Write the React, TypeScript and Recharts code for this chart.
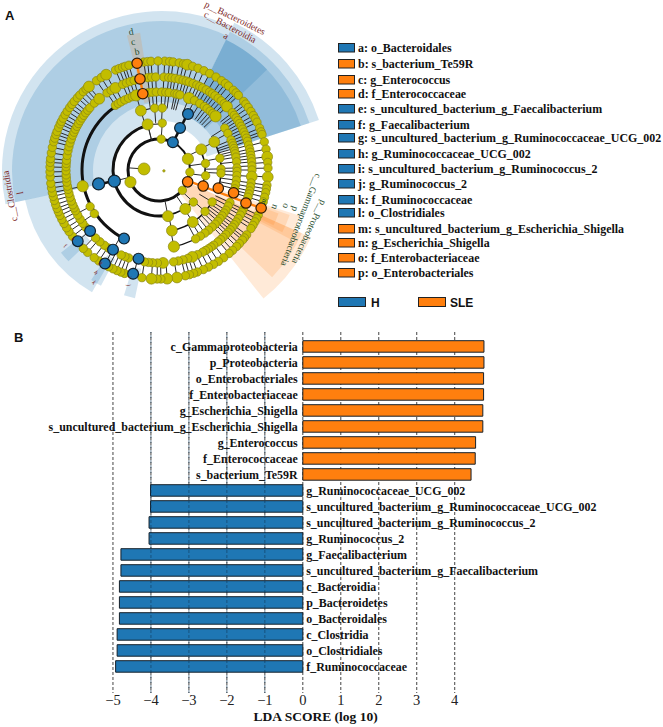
import {
  Bar,
  BarChart,
  CartesianGrid,
  Cell,
  Pie,
  PieChart,
  ReferenceLine,
  Scatter,
  ScatterChart,
  XAxis,
  YAxis,
} from 'recharts';

// ---- panel B values ----
const taxa = [
  'c_Gammaproteobacteria',
  'p_Proteobacteria',
  'o_Enterobacteriales',
  'f_Enterobacteriaceae',
  'g_Escherichia_Shigella',
  's_uncultured_bacterium_g_Escherichia_Shigella',
  'g_Enterococcus',
  'f_Enterococcaceae',
  's_bacterium_Te59R',
  'g_Ruminococcaceae_UCG_002',
  's_uncultured_bacterium_g_Ruminococcaceae_UCG_002',
  's_uncultured_bacterium_g_Ruminococcus_2',
  'g_Ruminococcus_2',
  'g_Faecalibacterium',
  's_uncultured_bacterium_g_Faecalibacterium',
  'c_Bacteroidia',
  'p_Bacteroidetes',
  'o_Bacteroidales',
  'c_Clostridia',
  'o_Clostridiales',
  'f_Ruminococcaceae',
];
const scores = [
  4.77, 4.77, 4.76, 4.76, 4.74, 4.74, 4.55, 4.54, 4.43, -4.01, -4.01, -4.05, -4.05, -4.79, -4.79,
  -4.83, -4.83, -4.83, -4.89, -4.89, -4.93,
];
const scoreTicks = [-5, -4, -3, -2, -1, 0, 1, 2, 3, 4];

// ---- panel A legend ----
const legendLabels = [
  'a: o_Bacteroidales',
  'b: s_bacterium_Te59R',
  'c: g_Enterococcus',
  'd: f_Enterococcaceae',
  'e: s_uncultured_bacterium_g_Faecalibacterium',
  'f: g_Faecalibacterium',
  'g: s_uncultured_bacterium_g_Ruminococcaceae_UCG_002',
  'h: g_Ruminococcaceae_UCG_002',
  'i: s_uncultured_bacterium_g_Ruminococcus_2',
  'j: g_Ruminococcus_2',
  'k: f_Ruminococcaceae',
  'l: o_Clostridiales',
  'm: s_uncultured_bacterium_g_Escherichia_Shigella',
  'n: g_Escherichia_Shigella',
  'o: f_Enterobacteriaceae',
  'p: o_Enterobacteriales',
];
const legendGroups = ['H', 'S', 'S', 'S', 'H', 'H', 'H', 'H', 'H', 'H', 'H', 'H', 'S', 'S', 'S', 'S'];
const legendRows = [48, 64, 80, 94, 109, 125, 138, 154, 169, 184, 200, 213, 229, 243, 258, 273];

// ---- panel A cladogram, angles in degrees clockwise from 12 o'clock ----
const ring109 = [
  3, 5.6, 7.5, 10.7, 13, 15, 18, 21, 24.4, 27.7, 31.5, 35, 37.5, 39.6, 43, 45, 46.8, 51, 52.8, 55, 57.5, 60, 62, 64,
  67.4, 69.5, 71, 75, 79, 83, 86, 89, 93.7, 98, 100, 102, 104.5, 107, 114.4, 116.5, 118.4, 120.5, 122.5, 126.5, 128.5,
  130, 132.5, 134.6, 137.5, 140, 143.6, 147, 150, 153, 156, 159.4, 161.5, 163.8, 166, 170.5, 175.7, 179, 181, 184, 189,
  198.4, 200.5, 202.7, 205, 207.5, 213.5, 216.5, 220.9, 224, 232.5, 235.6, 238, 240.6, 243, 245.4, 247.5, 249.4, 251.5,
  253.8, 256, 258, 260.5, 263, 266.4, 269, 271.6, 274, 276, 279, 282, 285, 287, 289, 290.7, 293, 295, 296.5, 298.4,
  300.5, 302.6, 305, 307, 309, 311.5, 313.5, 316, 318, 320, 325, 328, 331, 336.5, 338.5, 340.5, 342, 344, 352, 354,
  355.8, 359.5,
];
const big109 = [15, 170.5, 175.7, 184, 320, 331, 93.7, 83];
const ring93 = [
  3, 6, 8, 10, 12.5, 15, 17, 19, 21.5, 24, 26, 28, 30.5, 33, 35, 37, 39.5, 42, 44.5, 47, 52, 54, 56, 58, 60, 62, 64, 66,
  68, 70, 72, 74.5, 77, 79, 81, 83, 85, 87.5, 90, 94, 98, 100.5, 103, 105, 107, 115, 117, 119, 121.5, 124, 126, 128, 130,
  132, 134, 136.5, 138.5, 140.7, 144, 146, 148, 150, 152, 155.5, 159, 162, 165, 168, 171, 177.5, 181, 184, 186.5, 189,
  199, 201.5, 204, 213, 216, 219.5, 223, 232, 235, 238, 241, 244, 246, 248, 250.5, 253, 255.5, 258, 260, 262.5, 265, 267,
  269.5, 272, 274, 276, 279, 282, 284.5, 287, 289.5, 292, 294, 296, 298, 300, 302, 304, 306, 308, 310, 312, 316, 320,
  326, 329, 332, 337, 339.5, 342, 344.5, 353, 355.5, 358,
];
const big93 = [47, 320, 332, 177.5, 159, 94];
const ring78 = [
  326, 328.5, 331, 334, 337, 340, 343, 352, 355, 358, 2, 5, 7.5, 11.7, 13.5, 15.6, 22.6, 27, 31.5, 35.5, 38, 41, 43.5,
  46.5, 57.5, 62, 67.4, 70, 72, 74, 76, 78, 80.5, 84, 88.5, 91, 94, 97.5, 101, 104, 114.6, 117.5, 121, 123.5, 126, 128.5,
  131, 134, 137, 140.5, 144, 148, 152, 169, 236, 242, 258,
];
const big78 = [22.6, 46.5, 258, 169, 343];
const ring62 = [343, 356, 3, 63, 79, 89, 93, 121, 132, 147, 168];
const big62 = [343, 63, 168, 147];
const ring47 = [346, 4, 64, 82, 97, 133, 146, 169];
const big47 = [346, 64, 146, 169];
const ring31 = [4, 69, 94, 131, 247];
const big31 = [69, 247];
const rootRadii = [5, 15];
const rootAngles = [100, 274];

const hRadii = [31, 47, 63, 46, 62, 77, 92, 108, 92, 108, 91, 107];
const hAngles = [26.6, 26.6, 27.4, 256, 257, 207, 228.5, 228.8, 210, 210, 193, 194];
const sleRadii = [31, 47, 62, 78, 93, 109, 78, 93, 109];
const sleAngles = [112.5, 110, 107, 107, 110.8, 110.4, 348, 348.2, 348.4];

// [from angle, to angle, inner radius, outer radius]
const blueWedges = [
  [258, 386, 50, 160],
  [258, 386, 69, 150],
  [210, 258, 112, 140],
  [26, 72, 47, 165],
  [26, 72, 60, 155],
  [26, 72, 73, 146],
  [26, 46, 60, 146],
  [226, 231, 100, 130],
  [208, 213, 100, 130],
  [192, 197, 100, 130],
];
const orangeWedges = [
  [114, 141.5, 30, 163],
  [114, 134, 30, 153],
  [108, 118, 60, 145],
  [109, 117, 100, 135],
  [110, 116, 110, 124],
  [345.5, 351, 70, 140],
];
// [radius, from angle, to angle, width]
const branchArcs = [
  [31, 131, 387, 3],
  [31, 27, 131, 2],
  [46, 169, 346, 3],
  [46, 64, 110, 1.5],
  [46, 133, 169, 1.5],
  [46, 346, 364, 1.2],
  [77, 207, 327, 3],
  [62, 63, 107, 1.5],
  [62, 121, 168, 1.5],
  [62, 343, 363, 1.2],
  [78, 22, 46, 1.2],
  [78, 57, 107, 1.2],
  [78, 114, 169, 1.2],
];
// [from radius, to radius, angle]
const extraBranches = [
  [15, 31, 274],
  [31, 46, 256],
  [77, 93, 236],
  [77, 93, 242],
  [77, 93, 258],
  [77, 92, 210],
  [31, 46, 346],
];

// [text, x, y, rotation, size, colour]
const cladeLabels: [string, number, number, number, number, string][] = [
  ['p__Bacteroidetes', 235, 18, 26, 9.5, '#7b1e1e'],
  ['c__Bacteroidia', 230, 27, 28, 9.5, '#7b1e1e'],
  ['a', 226, 36, 30, 9.5, '#7b1e1e'],
  ['c__Clostridia', 10, 196, -100, 9.5, '#7b1e1e'],
  ['l', 20, 193, -100, 9.5, '#7b1e1e'],
  ['d', 131, 32, -10, 9.5, '#1f4d2e'],
  ['c', 133, 42, -10, 9.5, '#1f4d2e'],
  ['b', 137, 52, -10, 9.5, '#1f4d2e'],
  ['c__Gammaproteobacteria', 301, 220, 111, 9.5, '#1f4d2e'],
  ['p__Proteobacteria', 309, 232, 115, 9.5, '#1f4d2e'],
  ['p', 295, 209, 110, 9.5, '#1f4d2e'],
  ['o', 286, 206, 110, 9.5, '#1f4d2e'],
  ['n', 275, 207, 110, 9.5, '#1f4d2e'],
  ['m', 265, 202, 110, 7, '#1f4d2e'],
  ['k', 95, 282, 55, 6, '#7b1e1e'],
  ['h', 97, 272, 55, 6, '#7b1e1e'],
  ['g', 102, 262, 55, 6, '#7b1e1e'],
  ['j', 130, 285, 80, 6, '#7b1e1e'],
  ['i', 131, 277, 80, 6, '#7b1e1e'],
  ['f', 66, 245, 40, 6, '#7b1e1e'],
  ['e', 74, 238, 40, 6, '#7b1e1e'],
];

const BLUE = '#1f77b4';
const ORANGE = '#ff7f0e';
const OLIVE = '#c2bd00';
const SERIF = '"Liberation Serif", serif';
const SANS = '"Liberation Sans", sans-serif';

const ringX = 159;
const ringY = 170;
const wedgeX = 162;
const wedgeY = 171;
const zeroX = 302.7;

const barData = taxa.map((name, i) => ({ name, score: scores[i] }));

const polar = (r: number, angle: number) => ({
  x: ringX + r * Math.sin((angle * Math.PI) / 180),
  y: ringY - r * Math.cos((angle * Math.PI) / 180),
});

const ringNodes = (r: number, angles: number[], bigAngles: number[], size: number, bigSize: number) =>
  angles.map((a) => ({ ...polar(r, a), rad: bigAngles.includes(a) ? bigSize : size }));

const oliveNodes = [
  ...ringNodes(109, ring109, big109, 4.2, 5.4),
  ...ringNodes(93, ring93, big93, 4.2, 5.4),
  ...ringNodes(78, ring78, big78, 4.2, 5.6),
  ...ringNodes(62, ring62, big62, 4.2, 5.4),
  ...ringNodes(47, ring47, big47, 4.2, 5.5),
  ...ringNodes(31, ring31, big31, 4.2, 5.6),
  ...rootRadii.map((r, i) => ({ ...polar(r, rootAngles[i]), rad: i === 0 ? 1.2 : 6 })),
];
const hNodes = hRadii.map((r, i) => ({ ...polar(r, hAngles[i]), rad: i === 3 || i === 4 ? 6 : 5.4 }));
const sleNodes = sleRadii.map((r, i) => ({ ...polar(r, sleAngles[i]), rad: 5.2 }));

const inRange = (a: number) => a < 137 || a > 325;
const thinBranches = [
  ...ring109.map((a) => [93, 109, a]),
  ...hAngles.slice(7, 8).map((a) => [92, 108, a]),
  [92, 108, 210],
  [91, 107, 193.5],
  ...ring93.filter(inRange).map((a) => [78, 93, a]),
  ...ring78.filter((a) => a < 170 || a > 340).map((a) => [62, 78, a]),
  ...ring62.map((a) => [47, 62, a]),
  ...ring47.map((a) => [31, 47, a]),
  ...extraBranches,
];
const hSpine = [
  [31, 63, 27],
  [46, 62, 256.5],
];
const sleSpine = [
  [31, 109, 110.5],
  [78, 109, 348.2],
];

const layer = { position: 'absolute', left: 0, top: 0 } as const;

const dropNode = () => <g />;

const makeNode = (fill: string, stroke: string, strokeWidth: number) => (props: any) =>
  <circle cx={props.cx} cy={props.cy} r={props.payload.rad} fill={fill} stroke={stroke} strokeWidth={strokeWidth} />;

const TaxonTick = ({ y, payload }: any) => {
  const score = scores[taxa.indexOf(payload.value)];
  return (
    <text
      x={score > 0 ? zeroX - 5 : zeroX + 3.5}
      y={y}
      dy={4}
      textAnchor={score > 0 ? 'end' : 'start'}
      fontFamily={SERIF}
      fontWeight={700}
      fontSize={11.95}
      fill="#111"
    >
      {payload.value}
    </text>
  );
};

function Wedges() {
  const wedge = (w: number[], fill: string, key: string, opacity: number, cx = wedgeX, cy = wedgeY) => (
    <Pie
      key={key}
      data={[{ value: 1 }]}
      dataKey="value"
      cx={cx}
      cy={cy}
      startAngle={90 - w[0]}
      endAngle={90 - w[1]}
      innerRadius={w[2]}
      outerRadius={w[3]}
      fill={fill}
      fillOpacity={opacity}
      stroke="none"
      isAnimationActive={false}
    />
  );
  return (
    <PieChart width={340} height={320} style={layer} margin={{ top: 0, right: 0, bottom: 0, left: 0 }}>
      {blueWedges.map((w, i) => wedge(w, BLUE, `b${i}`, 0.2))}
      {orangeWedges.map((w, i) => wedge(w, ORANGE, `o${i}`, 0.16))}
      {branchArcs.map((a, i) =>
        wedge([a[1], a[2], a[0] - a[3] / 2, a[0] + a[3] / 2], '#111', `a${i}`, 1, ringX, ringY),
      )}
    </PieChart>
  );
}

function Branches() {
  const seg = (b: number[], color: string, width: number, key: string) => (
    <ReferenceLine
      key={key}
      segment={[polar(b[0], b[2]), polar(b[1], b[2])]}
      stroke={color}
      strokeWidth={width}
      ifOverflow="visible"
    />
  );
  return (
    <ScatterChart width={340} height={320} style={layer} margin={{ top: 0, right: 0, bottom: 0, left: 0 }}>
      <XAxis type="number" dataKey="x" domain={[0, 340]} hide />
      <YAxis type="number" dataKey="y" domain={[0, 320]} reversed hide />
      <Scatter data={[{ x: 0, y: 0 }]} shape={dropNode} isAnimationActive={false} />
      {thinBranches.map((b, i) => seg(b, '#2a2a2a', 1, `t${i}`))}
      {hSpine.map((b, i) => seg(b, '#111', 2.6, `h${i}`))}
      {sleSpine.map((b, i) => seg(b, ORANGE, 2.4, `s${i}`))}
    </ScatterChart>
  );
}

function Nodes() {
  return (
    <ScatterChart width={340} height={320} style={layer} margin={{ top: 0, right: 0, bottom: 0, left: 0 }}>
      <XAxis type="number" dataKey="x" domain={[0, 340]} hide />
      <YAxis type="number" dataKey="y" domain={[0, 320]} reversed hide />
      <Scatter data={oliveNodes} shape={makeNode(OLIVE, '#8a8612', 0.7)} isAnimationActive={false} />
      <Scatter data={hNodes} shape={makeNode(BLUE, '#10202c', 1.2)} isAnimationActive={false} />
      <Scatter data={sleNodes} shape={makeNode(ORANGE, '#2a1a08', 1.2)} isAnimationActive={false} />
    </ScatterChart>
  );
}

function ScoreBars() {
  return (
    <BarChart
      width={663}
      height={407}
      data={barData}
      layout="vertical"
      style={{ position: 'absolute', left: 0, top: 320 }}
      margin={{ top: 12, right: 177.9, bottom: 0, left: 111.2 }}
    >
      <CartesianGrid horizontal={false} syncWithTicks stroke="#444" strokeDasharray="3 2" />
      <XAxis
        type="number"
        domain={[-5.02, 4.8]}
        ticks={scoreTicks}
        axisLine={false}
        tickLine={false}
        tickSize={0}
        height={34}
        interval={0}
        tick={{ fontFamily: SERIF, fontSize: 14.5, fill: '#222' }}
        tickFormatter={(v: number) => String(v).replace('-', '\u2212')}
        label={{
          value: 'LDA SCORE (log 10)',
          position: 'insideBottom',
          dx: 17,
          dy: -1,
          style: { fontFamily: SERIF, fontWeight: 700, fontSize: 13.5, fill: '#111' },
        }}
      />
      <YAxis
        type="category"
        dataKey="name"
        width={1}
        interval={0}
        axisLine={false}
        tickLine={false}
        tick={TaxonTick}
        padding={{ top: 6.7, bottom: 18.3 }}
      />
      <Bar dataKey="score" barSize={11.5} stroke="#16202a" strokeWidth={1} isAnimationActive={false}>
        {barData.map((d) => (
          <Cell key={d.name} fill={d.score > 0 ? ORANGE : BLUE} />
        ))}
      </Bar>
      {scoreTicks
        .filter((t) => t < 0 && t > -5)
        .map((t) => (
          <ReferenceLine key={t} x={t} stroke="#123a5a" strokeOpacity={0.6} strokeDasharray="3 2" />
        ))}
    </BarChart>
  );
}

function Annotations() {
  return (
    <svg width={663} height={727} style={{ ...layer, pointerEvents: 'none' }}>
      <text x={5} y={20} fontFamily={SANS} fontWeight={700} fontSize={13} fill="#111">
        A
      </text>
      <text x={14} y={342} fontFamily={SANS} fontWeight={700} fontSize={13} fill="#111">
        B
      </text>
      {cladeLabels.map(([label, x, y, rot, size, color]) => (
        <text
          key={label}
          x={x}
          y={y}
          dy={3}
          textAnchor="middle"
          transform={`rotate(${rot} ${x} ${y})`}
          fontFamily={SERIF}
          fontSize={size}
          fill={color}
        >
          {label}
        </text>
      ))}
      {legendLabels.map((label, i) => (
        <g key={label}>
          <rect
            x={338.5}
            y={legendRows[i] - 4.5}
            width={16}
            height={8.5}
            fill={legendGroups[i] === 'H' ? BLUE : ORANGE}
            stroke="#222"
          />
          <text
            x={358}
            y={legendRows[i]}
            dy={4}
            fontFamily={SERIF}
            fontWeight={700}
            fontSize={11.95}
            fill="#111"
          >
            {label}
          </text>
        </g>
      ))}
      <rect x={338.5} y={297.5} width={27} height={9} fill={BLUE} stroke="#222" />
      <text x={371} y={306.5} fontFamily={SANS} fontWeight={700} fontSize={12} fill="#111">
        H
      </text>
      <rect x={418.5} y={297.5} width={27} height={9} fill={ORANGE} stroke="#222" />
      <text x={450} y={306.5} fontFamily={SANS} fontWeight={700} fontSize={12} fill="#111">
        SLE
      </text>
    </svg>
  );
}

export default function App() {
  return (
    <div style={{ ...layer, width: 663, height: 727, background: '#fff' }}>
      <Wedges />
      <Branches />
      <Nodes />
      <ScoreBars />
      <Annotations />
    </div>
  );
}
